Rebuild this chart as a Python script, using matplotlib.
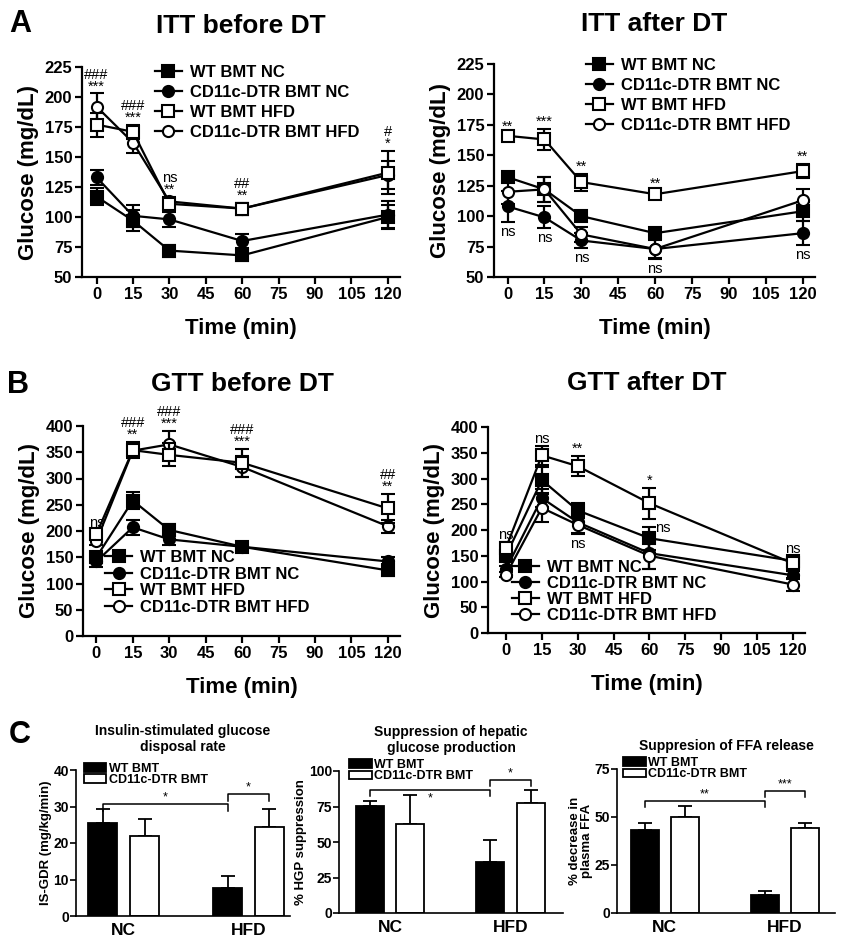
import matplotlib.pyplot as plt

plt.rcParams['font.family'] = ['Liberation Sans', 'DejaVu Sans']
plt.rcParams['font.weight'] = 'bold'
plt.rcParams['axes.labelweight'] = 'bold'
plt.rcParams['axes.titleweight'] = 'bold'
plt.rcParams['axes.linewidth'] = 1.6

W, H = 846, 944

times = [0, 15, 30, 60, 120]
groups = ['WT BMT NC', 'CD11c-DTR BMT NC', 'WT BMT HFD', 'CD11c-DTR BMT HFD']

# ITT before DT, one row per group (mean, sem)
itt_pre_mean = [[117, 97, 72, 68, 100],
                [133, 101, 98, 80, 102],
                [177, 171, 111, 107, 137],
                [192, 162, 113, 107, 135]]
itt_pre_sem = [[7, 9, 5, 5, 10],
               [6, 9, 6, 6, 11],
               [10, 6, 5, 5, 18],
               [11, 9, 4, 5, 12]]
itt_pre_sig = ['###\n***', '###\n***', 'ns\n**', '##\n**', '#\n*']

# ITT after DT
itt_post_mean = [[132, 122, 100, 86, 104],
                 [108, 99, 80, 73, 86],
                 [166, 163, 128, 118, 137],
                 [120, 122, 85, 73, 113]]
itt_post_sem = [[3, 10, 4, 4, 8],
                [13, 9, 6, 7, 10],
                [2, 9, 7, 3, 6],
                [10, 10, 6, 8, 9]]
itt_post_sig = ['**', '***', '**', '**', '**']
itt_post_ns = ['ns', 'ns', 'ns', 'ns', 'ns']

# GTT before DT
gtt_pre_mean = [[150, 258, 202, 170, 125],
                [142, 207, 184, 170, 142],
                [194, 354, 345, 330, 243],
                [181, 353, 365, 322, 209]]
gtt_pre_sem = [[10, 16, 12, 10, 10],
               [10, 14, 10, 8, 8],
               [8, 15, 22, 27, 27],
               [8, 10, 25, 20, 12]]
gtt_pre_sig = ['ns', '###\n**', '###\n***', '###\n***', '##\n**']

# GTT after DT
gtt_post_mean = [[150, 297, 238, 184, 140],
                 [124, 262, 215, 155, 112],
                 [165, 345, 324, 252, 135],
                 [113, 243, 210, 150, 94]]
gtt_post_sem = [[8, 25, 15, 22, 10],
                [6, 18, 20, 30, 8],
                [12, 18, 20, 30, 8],
                [5, 27, 18, 25, 12]]
gtt_post_sig = ['ns', 'ns', '**', '*', 'ns']
gtt_post_ns = ['', '', 'ns', '', '']

# clamp studies, rows = WT BMT / CD11c-DTR BMT, cols = NC / HFD
diets = ['NC', 'HFD']
bmt = ['WT BMT', 'CD11c-DTR BMT']
gdr_mean = [[25.4, 7.6], [22.0, 24.4]]
gdr_sem = [[3.8, 3.4], [4.5, 4.8]]
hgp_mean = [[75.6, 36.0], [62.8, 77.3]]
hgp_sem = [[3.4, 15.3], [20.6, 9.4]]
ffa_mean = [[43.3, 9.2], [49.9, 44.5]]
ffa_sem = [[3.5, 2.1], [5.9, 2.6]]
gdr_sig = ['*', '*']
hgp_sig = ['*', '*']
ffa_sig = ['**', '***']

markers = ['s', 'o', 's', 'o']
faces = ['k', 'k', 'w', 'w']
zorders = [3, 3, 5, 4]

fig = plt.figure(figsize=(W / 100, H / 100), dpi=100)


def add_axes(l, t, r, b):
    return fig.add_axes([l / W, 1 - b / H, (r - l) / W, (b - t) / H])


def ftext(x, y, s, **kw):
    fig.text(x / W, 1 - y / H, s, ha='center', va='center', **kw)


def line_panel(ax, means, sems, sig, below, xlim, ylim, yticks, leg_xy, leg_sp):
    handles = []
    for m, e, mk, fc, z in zip(means, sems, markers, faces, zorders):
        c = ax.errorbar(times, m, yerr=e, color='k', marker=mk, mfc=fc, mec='k',
                        ms=8, mew=1.5, lw=1.6, elinewidth=1.6, capsize=5,
                        capthick=1.6, zorder=z, clip_on=False)
        handles.append(c[0])
    for i, t in enumerate(times):
        top = max(m[i] + e[i] for m, e in zip(means, sems))
        bot = min(m[i] - e[i] for m, e in zip(means, sems))
        if sig[i]:
            ax.annotate(sig[i], (t, top), xytext=(0, 0), textcoords='offset points',
                        ha='center', va='bottom', fontsize=10.5, fontweight='normal',
                        linespacing=0.8)
        if below and below[i]:
            ax.annotate(below[i], (t, bot), xytext=(0, -2), textcoords='offset points',
                        ha='center', va='top', fontsize=10.5, fontweight='normal')
    ax.set_xlim(*xlim)
    ax.set_ylim(*ylim)
    ax.set_xticks(times[:1] + list(range(15, 121, 15)))
    ax.set_yticks(yticks)
    for s in ['top', 'right']:
        ax.spines[s].set_visible(False)
    ax.tick_params(direction='out', length=5, width=1.6, labelsize=12, pad=2)
    ax.set_ylabel('Glucose (mg/dL)', fontsize=16, labelpad=4)
    ax.set_xlabel('Time (min)', fontsize=16, labelpad=12)
    ax.legend(handles, groups, loc='upper left', bbox_to_anchor=leg_xy, frameon=False,
              fontsize=12, numpoints=1, handlelength=1.6, handletextpad=0.5,
              labelspacing=leg_sp, borderpad=0, borderaxespad=0)


def bar_panel(ax, means, sems, sig, title, ylabel, xlim, ymax, yticks, leg_xy, star_below=False):
    pos = [[-0.72, 4.3 - 0.72], [0.72, 4.3 + 0.72]]
    colors = ['k', 'w']
    for k in range(2):
        ax.bar(pos[k], means[k], width=1.0, color=colors[k], edgecolor='k',
               linewidth=1.3, label=bmt[k], zorder=2)
        ax.errorbar(pos[k], means[k], yerr=[[0, 0], sems[k]], fmt='none', ecolor='k',
                    elinewidth=1.3, capsize=5, capthick=1.3, zorder=1)
    tops = [[means[k][j] + sems[k][j] for j in range(2)] for k in range(2)]
    # bracket 1: WT NC vs WT HFD, bracket 2: WT HFD vs CD HFD
    h1 = max(tops[0][0], tops[1][0], tops[0][1]) + 0.035 * ymax
    h2 = h1 + 0.07 * ymax
    tick = 0.045 * ymax
    for (xa, xb), h, s, below in [((pos[0][0], pos[0][1]), h1, sig[0], star_below),
                                  ((pos[0][1], pos[1][1]), h2, sig[1], False)]:
        ax.plot([xa, xa, xb, xb], [h - tick, h, h, h - tick], color='k', lw=1.1,
                clip_on=False)
        if below:
            ax.text((xa + xb) / 2, h - 0.02 * ymax, s, ha='center', va='top',
                    fontsize=9, fontweight='normal')
        else:
            ax.text((xa + xb) / 2, h + 0.005 * ymax, s, ha='center', va='bottom',
                    fontsize=9, fontweight='normal')
    ax.set_xlim(*xlim)
    ax.set_ylim(0, ymax)
    ax.set_yticks(yticks)
    ax.set_xticks([0, 4.3])
    ax.set_xticklabels(diets, fontsize=12.5)
    ax.tick_params(axis='x', length=0, pad=5)
    ax.tick_params(axis='y', direction='out', length=4, width=1.2, labelsize=10, pad=1)
    for s in ['top', 'right']:
        ax.spines[s].set_visible(False)
    for s in ['left', 'bottom']:
        ax.spines[s].set_linewidth(1.2)
    ax.set_title(title, fontsize=10, pad=14, linespacing=1.1)
    ax.set_ylabel(ylabel, fontsize=9.5, labelpad=1, linespacing=1.0)
    ax.legend(loc='upper left', bbox_to_anchor=leg_xy, frameon=False, fontsize=9,
              handlelength=1.8, handleheight=0.7, handletextpad=0.2,
              labelspacing=-0.05, borderpad=0, borderaxespad=0)


ax1 = add_axes(82, 67, 400, 277)
line_panel(ax1, itt_pre_mean, itt_pre_sem, itt_pre_sig, None, (-6, 125), (50, 225),
           range(50, 226, 25), (0.23, 1.01), 0.3)
ax2 = add_axes(494, 64, 815, 277)
line_panel(ax2, itt_post_mean, itt_post_sem, itt_post_sig, itt_post_ns, (-5.5, 125),
           (50, 225), range(50, 226, 25), (0.287, 1.03), 0.3)
ax3 = add_axes(83, 426, 400, 636)
line_panel(ax3, gtt_pre_mean, gtt_pre_sem, gtt_pre_sig, None, (-5.5, 125), (0, 400),
           range(0, 401, 50), (0.07, 0.41), 0.1)
ax4 = add_axes(488, 427, 805, 633)
line_panel(ax4, gtt_post_mean, gtt_post_sem, gtt_post_sig, gtt_post_ns, (-7.5, 125),
           (0, 400), range(0, 401, 50), (0.076, 0.354), 0.05)
ax4.annotate('ns', (times[3], gtt_post_mean[0][3]), xytext=(4, 2),
             textcoords='offset points', ha='left', va='bottom', fontsize=10.5,
             fontweight='normal')

ax5 = add_axes(76, 770, 290, 916)
bar_panel(ax5, gdr_mean, gdr_sem, gdr_sig, 'Insulin-stimulated glucose\ndisposal rate',
          'IS-GDR (mg/kg/min)', (-1.65, 5.73), 40, range(0, 41, 10), (0.037, 1.05))
ax6 = add_axes(339, 771, 563, 913)
bar_panel(ax6, hgp_mean, hgp_sem, hgp_sig, 'Suppression of hepatic\nglucose production',
          '% HGP suppression', (-1.82, 6.18), 100, range(0, 101, 25), (0.045, 1.085),
          star_below=True)
ax7 = add_axes(617, 769, 835, 913)
bar_panel(ax7, ffa_mean, ffa_sem, ffa_sig, 'Suppresion of FFA release',
          '% decrease in\nplasma FFA', (-1.71, 6.08), 75, range(0, 76, 25), (0.028, 1.083))

ftext(241, 26, 'ITT before DT', fontsize=19)
ftext(654, 24, 'ITT after DT', fontsize=19)
ftext(242, 384, 'GTT before DT', fontsize=19)
ftext(647, 383, 'GTT after DT', fontsize=19)
ftext(20, 24, 'A', fontsize=22)
ftext(18, 385, 'B', fontsize=22)
ftext(20, 735, 'C', fontsize=22)

fig.savefig('out.png', dpi=100, facecolor='white')
